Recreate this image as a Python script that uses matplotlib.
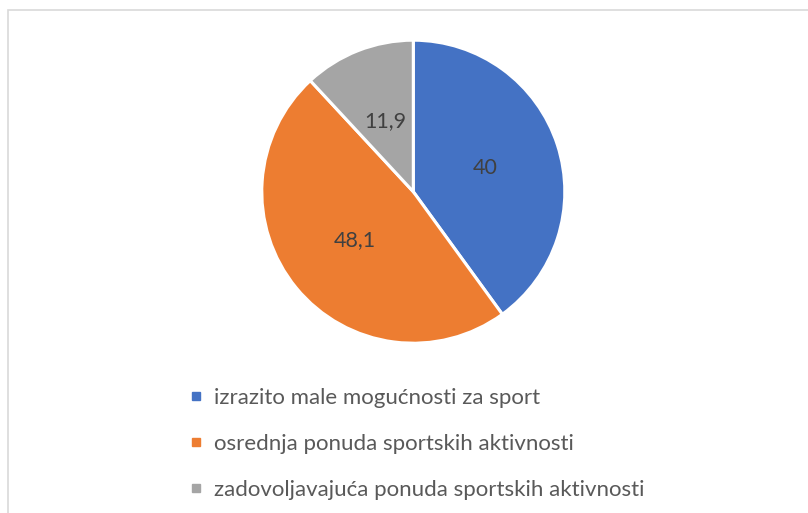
import matplotlib
matplotlib.use("Agg")
import matplotlib.pyplot as plt
from matplotlib.lines import Line2D
from matplotlib.patches import Rectangle

# podaci
categories = ["izrazito male mogućnosti za sport",
              "osrednja ponuda sportskih aktivnosti",
              "zadovoljavajuća ponuda sportskih aktivnosti"]
values = [40, 48.1, 11.9]
colors = ["#4472C4", "#ED7D31", "#A5A5A5"]

plt.rcParams['font.family'] = ['Lato', 'DejaVu Sans']

W, H = 808, 513
fig = plt.figure(figsize=(W / 100, H / 100), dpi=100)

# okvir grafikona
fig.patches.append(Rectangle((7.5 / W, -0.1), 1.2, 1.1 - 10.5 / H,
                             transform=fig.transFigure, fill=False,
                             edgecolor="#D9D9D9", linewidth=1.2))

# pita
cx, cy, r = 413.3, H - 191.7, 151.5
ax = fig.add_axes([(cx - r) / W, (cy - r) / H, 2 * r / W, 2 * r / H])
total = sum(values)

def fmt(p):
    v = p * total / 100
    s = f"{v:.1f}".rstrip("0").rstrip(".")
    return s.replace(".", ",")

wedges, texts, autotexts = ax.pie(values, colors=colors, startangle=90, counterclock=False,
                                  autopct=fmt, pctdistance=0.5,
                                  wedgeprops=dict(edgecolor="white", linewidth=2.2),
                                  textprops=dict(color="#404040", fontsize=15.5))
ax.set_xlim(-1, 1)
ax.set_ylim(-1, 1)

# legenda
handles = [Line2D([], [], marker="s", linestyle="", markersize=5.5, color=c) for c in colors]
fig.legend(handles, categories, loc="upper left",
           bbox_to_anchor=(178 / W, 1 - 377 / H), frameon=False,
           fontsize=16, labelcolor="#595959", handlelength=0.6,
           handletextpad=0.5, labelspacing=1.17, borderpad=0)

fig.savefig("out.png", dpi=100)
